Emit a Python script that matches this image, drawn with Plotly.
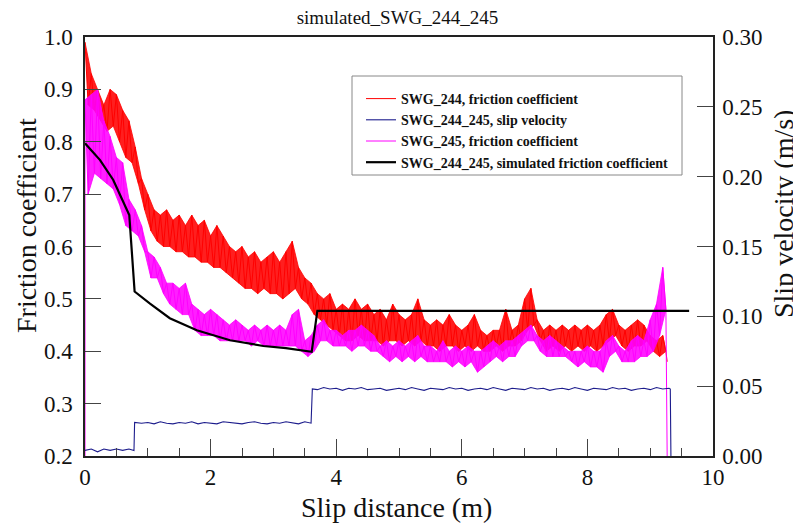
import plotly.graph_objects as go

# ---------------- data ----------------
# friction series sampled every 0.1 m : upper / lower envelope of the noisy trace
fric_dist = [round(i * 0.1, 1) for i in range(93)]  # 0.0 ... 9.2

swg244_hi = [0.99, 0.93, 0.90, 0.87, 0.90, 0.89, 0.86, 0.84, 0.79, 0.73,
             0.70, 0.67, 0.66, 0.67, 0.65, 0.66, 0.64, 0.66, 0.64, 0.65,
             0.62, 0.64, 0.62, 0.60, 0.59, 0.60, 0.58, 0.59, 0.57, 0.58,
             0.59, 0.57, 0.59, 0.61, 0.56, 0.54, 0.53, 0.51, 0.50, 0.51,
             0.48, 0.49, 0.48, 0.50, 0.48, 0.49, 0.47, 0.48, 0.46, 0.49,
             0.47, 0.46, 0.47, 0.50, 0.46, 0.45, 0.46, 0.45, 0.47, 0.45,
             0.44, 0.45, 0.47, 0.44, 0.43, 0.44, 0.44, 0.48, 0.44, 0.45,
             0.50, 0.52, 0.46, 0.44, 0.45, 0.44, 0.45, 0.44, 0.45, 0.44,
             0.45, 0.44, 0.45, 0.47, 0.48, 0.45, 0.44, 0.45, 0.46, 0.45,
             0.43, 0.42, 0.43]
swg244_lo = [0.87, 0.86, 0.84, 0.82, 0.83, 0.80, 0.77, 0.76, 0.72, 0.67,
             0.63, 0.61, 0.60, 0.60, 0.59, 0.59, 0.58, 0.58, 0.57, 0.57,
             0.56, 0.56, 0.55, 0.54, 0.53, 0.52, 0.52, 0.51, 0.52, 0.51,
             0.51, 0.50, 0.51, 0.52, 0.50, 0.49, 0.47, 0.46, 0.45, 0.44,
             0.43, 0.42, 0.42, 0.43, 0.42, 0.42, 0.42, 0.41, 0.42, 0.42,
             0.41, 0.42, 0.41, 0.42, 0.41, 0.41, 0.40, 0.41, 0.41, 0.40,
             0.41, 0.40, 0.41, 0.40, 0.40, 0.41, 0.40, 0.41, 0.41, 0.42,
             0.44, 0.45, 0.42, 0.40, 0.41, 0.40, 0.41, 0.40, 0.41, 0.40,
             0.41, 0.40, 0.41, 0.42, 0.43, 0.41, 0.40, 0.41, 0.41, 0.42,
             0.40, 0.39, 0.40]
swg244_end = (9.27, 0.38)

swg245_start = (0.0, 0.20)
swg245_hi = [0.88, 0.89, 0.90, 0.84, 0.81, 0.77, 0.76, 0.69, 0.67, 0.64,
             0.59, 0.58, 0.56, 0.53, 0.53, 0.52, 0.53, 0.49, 0.48, 0.47,
             0.48, 0.47, 0.46, 0.45, 0.46, 0.45, 0.44, 0.45, 0.44, 0.45,
             0.44, 0.45, 0.44, 0.47, 0.48, 0.42, 0.43, 0.45, 0.46, 0.44,
             0.44, 0.43, 0.44, 0.44, 0.45, 0.44, 0.43, 0.41, 0.42, 0.41,
             0.42, 0.41, 0.42, 0.43, 0.41, 0.41, 0.40, 0.42, 0.40, 0.41,
             0.40, 0.41, 0.40, 0.40, 0.41, 0.42, 0.41, 0.42, 0.42, 0.43,
             0.44, 0.45, 0.43, 0.42, 0.43, 0.42, 0.41, 0.40, 0.40, 0.40,
             0.41, 0.40, 0.40, 0.42, 0.43, 0.41, 0.40, 0.42, 0.43, 0.42,
             0.46, 0.49, 0.56]
swg245_lo = [0.70, 0.74, 0.73, 0.72, 0.71, 0.68, 0.64, 0.63, 0.62, 0.59,
             0.54, 0.54, 0.51, 0.49, 0.48, 0.47, 0.47, 0.44, 0.43, 0.43,
             0.43, 0.42, 0.42, 0.42, 0.42, 0.42, 0.41, 0.42, 0.41, 0.41,
             0.41, 0.41, 0.41, 0.41, 0.40, 0.39, 0.40, 0.42, 0.42, 0.41,
             0.41, 0.41, 0.40, 0.41, 0.41, 0.40, 0.40, 0.39, 0.38, 0.39,
             0.38, 0.39, 0.38, 0.39, 0.38, 0.38, 0.38, 0.38, 0.37, 0.38,
             0.37, 0.38, 0.36, 0.37, 0.38, 0.39, 0.38, 0.39, 0.39, 0.41,
             0.42, 0.42, 0.40, 0.39, 0.39, 0.39, 0.39, 0.38, 0.37, 0.38,
             0.37, 0.37, 0.36, 0.39, 0.40, 0.38, 0.38, 0.38, 0.39, 0.39,
             0.40, 0.43, 0.48]
swg245_end = (9.27, 0.20)

# simulated friction coefficient
sim_dist = [0.0, 0.24, 0.45, 0.705, 0.79, 0.90, 1.035, 1.35, 1.78, 2.31,
            2.84, 3.20, 3.61, 3.70, 9.62]
sim_fric = [0.797, 0.765, 0.727, 0.660, 0.514, 0.503, 0.491, 0.463, 0.440, 0.421,
            0.410, 0.406, 0.399, 0.477, 0.477]

# slip velocity (m/s), right axis
vel_dist = ([round(i * 0.1, 1) for i in range(8)] + [0.78, 0.79]
            + [round(0.9 + i * 0.1, 1) for i in range(28)] + [3.62]
            + [round(3.7 + i * 0.1, 1) for i in range(57)] + [9.32, 9.33])
vel = ([0.004, 0.005, 0.003, 0.005, 0.004, 0.005, 0.004, 0.005, 0.004, 0.024]
       + [0.0235, 0.024, 0.023, 0.0245, 0.0235, 0.023, 0.024, 0.0235, 0.0245, 0.023,
          0.024, 0.0235, 0.023, 0.0245, 0.024, 0.0235, 0.023, 0.024, 0.0245, 0.0235,
          0.023, 0.024, 0.0235, 0.0245, 0.024, 0.023, 0.0245, 0.0235]
       + [0.048]
       + [0.0475, 0.049, 0.048, 0.0485, 0.047, 0.0485, 0.048, 0.049, 0.0475, 0.048,
          0.0485, 0.047, 0.048, 0.0485, 0.0475, 0.049, 0.048, 0.047, 0.0485, 0.048,
          0.0475, 0.049, 0.048, 0.0485, 0.047, 0.048, 0.0485, 0.0475, 0.049, 0.048,
          0.047, 0.0485, 0.048, 0.0475, 0.049, 0.048, 0.0485, 0.047, 0.048, 0.0485,
          0.0475, 0.049, 0.048, 0.047, 0.0485, 0.048, 0.0475, 0.049, 0.048, 0.0485,
          0.047, 0.048, 0.0485, 0.0475, 0.049, 0.048, 0.0485]
       + [0.048, 0.0])

x_ticks = [0, 2, 4, 6, 8, 10]
names = ["SWG_244, friction coefficient", "SWG_244_245, slip velocity",
         "SWG_245, friction coefficient", "SWG_244_245, simulated friction coefficient"]
chart_title = "simulated_SWG_244_245"
x_title = "Slip distance (m)"
y_title = "Friction coefficient"
y2_title = "Slip velocity (m/s)"


def zigzag(dist, hi, lo):
    xs, ys = [], []
    for d, h, l in zip(dist, hi, lo):
        xs += [d, d + 0.05]
        ys += [h, l]
    return xs, ys


def band(dist, hi, lo):
    xs = list(dist) + [d + 0.05 for d in dist][::-1]
    ys = list(hi) + list(lo)[::-1]
    return xs, ys


SERIF = "Liberation Serif"
# the page body has an 8 px margin, so the figure is drawn 8 px smaller
W, H = 793, 517
L, R, T, B = 77, 88, 29, 69
PW, PH = W - L - R, H - T - B


def px(sx):   # screen x -> paper x
    return (sx - 8 - L) / PW


def py(sy):   # screen y -> paper y
    return (H - B - (sy - 8)) / PH


x244, y244 = zigzag(fric_dist, swg244_hi, swg244_lo)
x244.append(swg244_end[0]); y244.append(swg244_end[1])
x245, y245 = zigzag(fric_dist, swg245_hi, swg245_lo)
x245 = [swg245_start[0]] + x245 + [swg245_end[0]]
y245 = [swg245_start[1]] + y245 + [swg245_end[1]]
bx244, by244 = band(fric_dist, swg244_hi, swg244_lo)
bx245, by245 = band(fric_dist, swg245_hi, swg245_lo)

fig = go.Figure()
fig.add_trace(go.Scatter(x=bx244, y=by244, mode="lines", fill="toself", showlegend=False,
                         hoverinfo="skip", line=dict(width=0.8, color="#ff0000"),
                         fillcolor="rgba(255,0,0,0.88)"))
fig.add_trace(go.Scatter(x=x244, y=y244, mode="lines", name=names[0],
                         line=dict(color="#ff0000", width=1.0)))
fig.add_trace(go.Scatter(x=vel_dist, y=vel, mode="lines", name=names[1], yaxis="y2",
                         line=dict(color="#1c1c8c", width=1.1)))
fig.add_trace(go.Scatter(x=bx245, y=by245, mode="lines", fill="toself", showlegend=False,
                         hoverinfo="skip", line=dict(width=0.8, color="#ff00ff"),
                         fillcolor="rgba(255,0,255,0.88)"))
fig.add_trace(go.Scatter(x=x245, y=y245, mode="lines", name=names[2],
                         line=dict(color="#ff00ff", width=1.0)))
fig.add_trace(go.Scatter(x=sim_dist, y=sim_fric, mode="lines", name=names[3],
                         line=dict(color="#000000", width=2.2)))

axis_common = dict(showgrid=False, zeroline=False, showline=True, linecolor="#222",
                   linewidth=1.5, ticks="inside", tickcolor="#444", tickwidth=1,
                   automargin=False,
                   tickfont=dict(family=SERIF, size=23, color="#111"))

title_font = dict(family=SERIF, size=28, color="#111")

fig.update_layout(
    width=W, height=H,
    margin=dict(l=L, r=R, t=T, b=B),
    paper_bgcolor="white", plot_bgcolor="white",
    font=dict(family=SERIF),
    title=dict(text=chart_title, x=(397.5 - 8) / W, xref="container", xanchor="center",
               y=1 - (17 - 8) / H, yref="container", yanchor="middle",
               font=dict(family=SERIF, size=19, color="#111")),
    xaxis=dict(range=[0, 10], tickvals=x_ticks, ticklen=17, mirror=True,
               minor=dict(dtick=0.5, ticklen=8, ticks="inside", tickcolor="#444"),
               **axis_common),
    yaxis=dict(range=[0.2, 1.0], dtick=0.1, tickformat=".1f", ticklen=16,
               ticklabelstandoff=6, **axis_common),
    yaxis2=dict(range=[0, 0.30], dtick=0.05, tickformat=".2f", ticklen=16,
                overlaying="y", side="right", ticklabelstandoff=3, **axis_common),
    legend=dict(x=px(361), y=py(83), xanchor="left", yanchor="top",
                bgcolor="rgba(0,0,0,0)", borderwidth=0, tracegroupgap=0,
                font=dict(family=SERIF, size=14, color="#111", weight="bold")),
    showlegend=True,
    annotations=[
        dict(text=x_title, xref="paper", yref="paper", x=px(396.5), y=py(507),
             xanchor="center", yanchor="middle", showarrow=False, font=title_font),
        dict(text=y_title, xref="paper", yref="paper", x=px(26), y=py(226),
             xanchor="center", yanchor="middle", textangle=-90, showarrow=False,
             font=title_font),
        dict(text=y2_title, xref="paper", yref="paper", x=px(783), y=py(214),
             xanchor="center", yanchor="middle", textangle=-90, showarrow=False,
             font=title_font),
    ],
    shapes=[dict(type="rect", xref="paper", yref="paper",
                 x0=px(352), x1=px(682), y0=py(175), y1=py(76),
                 line=dict(color="#888", width=1), fillcolor="rgba(0,0,0,0)")],
)

fig.write_html("out.html")
